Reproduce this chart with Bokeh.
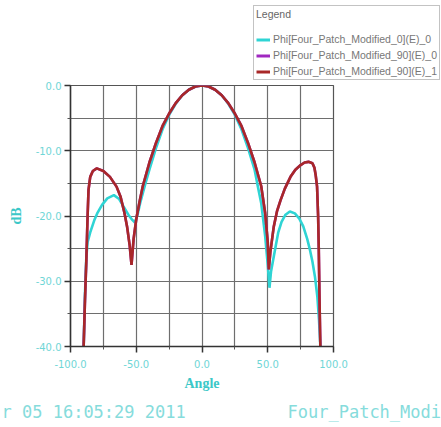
from bokeh.plotting import figure
from bokeh.layouts import column
from bokeh.models import (Range1d, FixedTicker, NumeralTickFormatter, Legend, LegendItem, Label)
from bokeh.embed import file_html
from bokeh.resources import INLINE

# ---- data ----
x_ticks = [-100, -50, 0, 50, 100]
x_minor = [-75, -25, 25, 75]
y_ticks = [-40, -30, -20, -10, 0]
y_minor = [-35, -25, -15, -5]

angle_red = [-90, -89, -88, -87, -86.3, -85, -83, -80, -75, -70, -65, -62, -59, -57, -55,
             -53.6, -52, -50, -47.5, -45, -40, -35, -30, -25, -20, -15, -10, -5, 0,
             5, 10, 15, 20, 25, 30, 35, 40, 45, 48, 50, 50.8, 52, 54.6, 57, 59.7, 63,
             67.3, 71, 75, 78, 81, 84, 85.5, 86.5, 87.5, 88.3, 88.8, 89.3, 90]
db_red = [-40, -33, -27, -20, -16, -14, -13.1, -12.7, -13.1, -14.0, -15.5, -17, -19.5, -21.6, -24.5,
          -27.5, -23.5, -20.5, -17.8, -15.4, -11.8, -8.8, -6.2, -4.3, -2.7, -1.5, -0.65, -0.15, 0,
          -0.15, -0.65, -1.5, -2.7, -4.3, -6.2, -8.8, -11.8, -15.4, -19.5, -24, -28.2, -25.5, -21.6, -19.3, -17.6, -15.8,
          -14, -12.9, -12.2, -11.8, -11.7, -11.9, -12.6, -13.8, -15.5, -20, -25, -32, -40]

angle_purple = angle_red
db_purple = db_red

angle_cyan = [-90, -89, -88, -87, -85, -82, -79.7, -76, -72, -67, -63, -59.5, -56, -53, -51,
              -49, -47, -45, -43, -40, -35, -30, -25, -20, -15, -10, -5, 0,
              5, 10, 15, 20, 25, 30, 35, 40, 42, 45, 48, 50, 51.3, 52.5, 55.5, 58, 60.5,
              63.5, 66.8, 70.6, 74, 77, 80, 82.1, 84, 85.9, 87.7, 89, 90]
db_cyan = [-40, -32, -26.5, -24, -22.5, -20.7, -19.6, -18.3, -17.3, -16.8, -17.4, -18.6, -19.8, -20.6, -21,
           -19.8, -18, -16.5, -15, -12.9, -9.6, -6.7, -4.5, -2.8, -1.5, -0.65, -0.15, 0,
           -0.15, -0.65, -1.5, -2.8, -4.5, -6.7, -9.6, -12.9, -15, -18, -23, -27.5, -31, -28.5, -25.2, -22.5, -20.9,
           -19.8, -19.3, -19.6, -20.4, -21.6, -23.5, -25.2, -27, -29.3, -32.3, -36, -40]

series_labels = ["Phi[Four_Patch_Modified_0](E)_0",
                 "Phi[Four_Patch_Modified_90](E)_0",
                 "Phi[Four_Patch_Modified_90](E)_1"]

footer_left = "r 05 16:05:29 2011"
footer_right = "Four_Patch_Modi"

# ---- styling ----
CYAN = "#2fd4d4"
PURPLE = "#a028c0"
RED = "#a82828"
TXT = "#6fd6d6"
GRID = "#6e6e6e"
W = 441
TOP_H = 81
BOT_H = 31
MAIN_H = 427 - TOP_H - BOT_H
NAN = float("nan")


def blank_fig(h, xr, yr):
    f = figure(width=W, height=h, x_range=xr, y_range=yr, output_backend="svg",
               toolbar_location=None, x_axis_type=None, y_axis_type=None,
               min_border_left=0, min_border_right=0, min_border_top=0, min_border_bottom=0)
    f.grid.visible = False
    f.outline_line_color = None
    f.background_fill_color = "white"
    f.border_fill_color = "white"
    f.frame_align = False
    return f


# ---- top strip: legend (swatch renderers hold no visible points) ----
top = blank_fig(TOP_H, Range1d(0, W), Range1d(0, TOP_H))
l_cyan = top.line([NAN], [NAN], line_color=CYAN, line_width=3)
l_purple = top.line([NAN], [NAN], line_color=PURPLE, line_width=3)
l_red = top.line([NAN], [NAN], line_color=RED, line_width=3)
legend = Legend(items=[LegendItem(label=series_labels[0], renderers=[l_cyan]),
                       LegendItem(label=series_labels[1], renderers=[l_purple]),
                       LegendItem(label=series_labels[2], renderers=[l_red])],
                location=(253, 1), title="Legend",
                title_text_font="Liberation Sans", title_text_font_size="10.5px",
                title_text_color="#666666", title_text_font_style="normal", title_standoff=13,
                label_text_font="Liberation Sans", label_text_font_size="10.5px",
                label_text_color="#777777", label_standoff=3,
                glyph_width=14, glyph_height=11, label_height=11, spacing=4,
                padding=2, margin=0,
                border_line_color="#888888", border_line_width=1,
                background_fill_color="white", background_fill_alpha=1.0)
top.add_layout(legend, "center")

# ---- main plot ----
p = figure(width=W, height=MAIN_H, x_range=Range1d(-100, 100), y_range=Range1d(-40, 0),
           output_backend="svg", toolbar_location=None,
           min_border_left=70, min_border_right=108, min_border_top=4, min_border_bottom=50)
p.frame_align = False
p.background_fill_color = "white"
p.border_fill_color = "white"
p.outline_line_color = "#555555"
p.outline_line_width = 1.2

xt = FixedTicker(ticks=x_ticks, minor_ticks=x_minor)
yt = FixedTicker(ticks=y_ticks, minor_ticks=y_minor)
p.xaxis.ticker = xt
p.yaxis.ticker = yt
p.xgrid.ticker = xt
p.ygrid.ticker = yt
for g in (p.xgrid, p.ygrid):
    g.grid_line_color = GRID
    g.grid_line_width = 1.2
    g.minor_grid_line_color = GRID
    g.minor_grid_line_width = 1.2

for ax in (p.xaxis, p.yaxis):
    ax.formatter = NumeralTickFormatter(format="0.0")
    ax.axis_line_color = "#333333"
    ax.axis_line_width = 1.5
    ax.major_tick_line_color = "#333333"
    ax.major_tick_line_width = 1.5
    ax.major_tick_out = 6
    ax.major_tick_in = 0
    ax.minor_tick_line_color = "#555555"
    ax.minor_tick_out = 3
    ax.minor_tick_in = 0
    ax.major_label_text_color = TXT
    ax.major_label_text_font = "DejaVu Sans"
    ax.major_label_text_font_size = "10px"
    ax.axis_label_text_color = "#3cc8c8"
    ax.axis_label_text_font = "Liberation Serif"
    ax.axis_label_text_font_style = "bold"
    ax.axis_label_text_font_size = "14px"

p.xaxis.axis_label = "Angle"
p.yaxis.axis_label = "dB"
p.xaxis.major_label_standoff = 7
p.yaxis.major_label_standoff = 3
p.xaxis.axis_label_standoff = 5
p.yaxis.axis_label_standoff = 9

p.line(angle_cyan, db_cyan, line_color=CYAN, line_width=2.6)
p.line(angle_purple, db_purple, line_color=PURPLE, line_width=2.6)
p.line(angle_red, db_red, line_color=RED, line_width=2.6)

# ---- bottom strip: footer texts ----
bot = blank_fig(BOT_H, Range1d(0, W), Range1d(0, BOT_H))
bot.add_layout(Label(x=1, y=16, text=footer_left, text_font="DejaVu Sans Mono",
                     text_font_size="17px", text_color="#86dcdc", text_baseline="middle",
                     text_align="left"))
bot.add_layout(Label(x=287, y=16, text=footer_right, text_font="DejaVu Sans Mono",
                     text_font_size="17px", text_color="#86dcdc", text_baseline="middle",
                     text_align="left"))

layout = column(top, p, bot, spacing=0)
open("out.html", "w").write(file_html(layout, INLINE))
